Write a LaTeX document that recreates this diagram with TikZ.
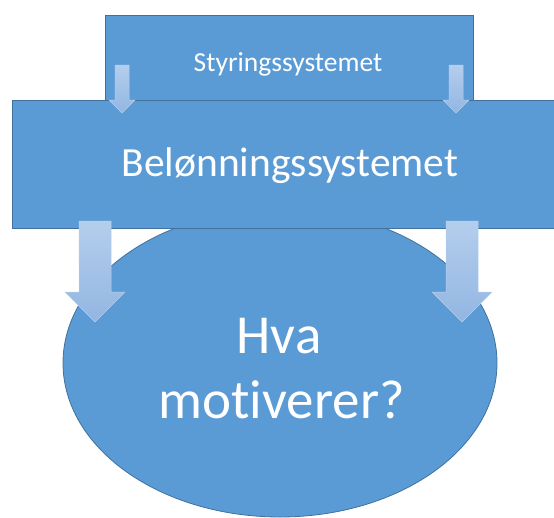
\documentclass[tikz,border=0pt]{standalone}
\usepackage{fontspec}
\setmainfont{Carlito}[Ligatures={NoCommon}]
\usetikzlibrary{shapes.geometric}
\definecolor{boxblue}{HTML}{5B9BD5}
\definecolor{boxline}{HTML}{41719C}
\definecolor{arrtop}{HTML}{B4CEEC}
\definecolor{arrbot}{HTML}{92B6E2}
\tikzset{
  box/.style={fill=boxblue, draw=boxline, line width=0.8pt, inner sep=0pt},
  downarrow/.style={top color=arrtop, bottom color=arrbot, draw=arrtop, line width=0.5pt},
  boxtext/.style={text=white, inner sep=0pt}
}
\begin{document}
\begin{tikzpicture}[x=1pt,y=-1pt]
\useasboundingbox (0,0) rectangle (554,517);
\node[box, ellipse, minimum width=434pt, minimum height=308pt] (motiv) at (280,363) {};
\node[box, rectangle, minimum width=368pt, minimum height=85pt] (styring) at (289,57.5) {};
\node[box, rectangle, minimum width=542pt, minimum height=128pt] (belonning) at (283,164) {};
\node[boxtext, anchor=base, font=\fontsize{27.5}{33}\selectfont] (styringtxt) at (288,71.7) {Styringssystemet};
\node[boxtext, anchor=base, font=\fontsize{41.5}{50}\selectfont] (belonningtxt) at (290,176.7) {Belønningssystemet};
\node[boxtext, anchor=base, font=\fontsize{55}{65}\selectfont] (hvatxt) at (279,353) {Hva};
\node[boxtext, anchor=base, font=\fontsize{55}{65}\selectfont] (motivtxt) at (281.5,418) {motiverer?};
% small arrows
\foreach \x in {122,456}
  \draw[downarrow] (\x-7,65) -- (\x+7,65) -- (\x+7,100) -- (\x+13,100) -- (\x,113) -- (\x-13,100) -- (\x-7,100) -- cycle;
% big arrows
\foreach \x in {95,462}
  \draw[downarrow] (\x-16,221) -- (\x+16,221) -- (\x+16,292) -- (\x+30,292) -- (\x,322) -- (\x-30,292) -- (\x-16,292) -- cycle;
\end{tikzpicture}
\end{document}
